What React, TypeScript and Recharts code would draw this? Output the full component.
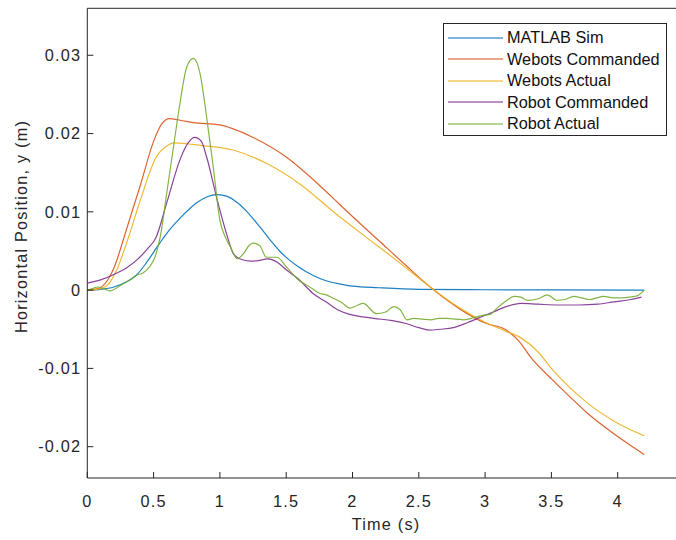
import React from 'react';
import { LineChart, Line, XAxis, YAxis, Legend, Label } from 'recharts';

const AXIS_COLOR = '#262626';
const FONT = '"Liberation Sans", Arial, Helvetica, sans-serif';

const xTicks = [0, 0.5, 1, 1.5, 2, 2.5, 3, 3.5, 4];
const yTicks = [-0.02, -0.01, 0, 0.01, 0.02, 0.03];

// MATLAB Sim
const simT = [0, 0.1, 0.2, 0.3, 0.37, 0.45, 0.55, 0.62, 0.7, 0.82, 0.9, 0.98, 1.05, 1.13, 1.2, 1.3, 1.38, 1.45, 1.52, 1.6, 1.7, 1.8, 1.9, 2.0, 2.2, 2.5, 3.0, 3.5, 4.2];
const simY = [0, 0.0001, 0.0004, 0.0011, 0.0019, 0.0036, 0.0061, 0.0077, 0.0092, 0.0111, 0.0119, 0.0122, 0.012, 0.0112, 0.0101, 0.0081, 0.0064, 0.005, 0.0039, 0.0029, 0.0019, 0.0012, 0.0008, 0.0005, 0.0003, 0.0001, 0.00005, 0.00002, 0];

// Webots Commanded
const wcT = [0, 0.08, 0.15, 0.2, 0.3, 0.4, 0.5, 0.56, 0.62, 0.7, 0.8, 1.0, 1.1, 1.25, 1.5, 1.75, 1.9, 2.0, 2.2, 2.4, 2.6, 2.8, 3.0, 3.16, 3.26, 3.34, 3.51, 3.65, 3.77, 4.0, 4.2];
const wcY = [0, 0.0002, 0.0012, 0.0028, 0.008, 0.0134, 0.019, 0.0212, 0.0219, 0.0217, 0.0214, 0.0211, 0.0206, 0.0195, 0.017, 0.0134, 0.011, 0.0094, 0.0063, 0.0032, 0.0002, -0.0023, -0.0042, -0.0051, -0.0066, -0.0085, -0.0115, -0.0138, -0.0157, -0.0187, -0.021];

// Webots Actual
const waT = [0, 0.1, 0.17, 0.22, 0.3, 0.4, 0.52, 0.6, 0.65, 0.75, 0.85, 1.1, 1.35, 1.6, 1.9, 2.0, 2.2, 2.4, 2.6, 2.8, 3.0, 3.15, 3.27, 3.4, 3.51, 3.77, 4.0, 4.2];
const waY = [0, 0.0002, 0.001, 0.0025, 0.0062, 0.0115, 0.017, 0.0184, 0.0188, 0.0187, 0.0185, 0.0179, 0.0162, 0.0136, 0.0094, 0.0081, 0.0055, 0.0029, 0.0002, -0.0022, -0.0041, -0.0052, -0.0061, -0.0079, -0.0102, -0.0144, -0.017, -0.0186];

// Robot Commanded
const rcT = [0, 0.1, 0.2, 0.3, 0.37, 0.45, 0.52, 0.6, 0.7, 0.76, 0.81, 0.86, 0.9, 0.98, 1.05, 1.1, 1.15, 1.23, 1.3, 1.36, 1.43, 1.5, 1.6, 1.7, 1.8, 1.9, 1.96, 2.16, 2.3, 2.41, 2.5, 2.58, 2.66, 2.76, 2.86, 2.96, 3.06, 3.16, 3.27, 3.4, 3.55, 3.71, 3.85, 3.97, 4.1, 4.18];
const rcY = [0.0009, 0.0013, 0.002, 0.0029, 0.0038, 0.0052, 0.0068, 0.0112, 0.0167, 0.0188, 0.0195, 0.019, 0.017, 0.0115, 0.0072, 0.0047, 0.004, 0.0037, 0.0038, 0.004, 0.0036, 0.0026, 0.0013, -0.0004, -0.0015, -0.0026, -0.003, -0.0036, -0.0039, -0.0043, -0.0048, -0.0051, -0.005, -0.0048, -0.0042, -0.0035, -0.0028, -0.0021, -0.0017, -0.0018, -0.0019, -0.0019, -0.0018, -0.0015, -0.0012, -0.0009];

// Robot Actual
const raT = [0, 0.04, 0.08, 0.12, 0.17, 0.25, 0.32, 0.37, 0.42, 0.47, 0.51, 0.55, 0.6, 0.65, 0.7, 0.75, 0.8, 0.85, 0.9, 0.95, 1.0, 1.04, 1.08, 1.13, 1.18, 1.22, 1.25, 1.3, 1.35, 1.4, 1.43, 1.5, 1.6, 1.67, 1.75, 1.8, 1.85, 1.92, 1.98, 2.03, 2.08, 2.18, 2.25, 2.31, 2.36, 2.41, 2.46, 2.53, 2.59, 2.65, 2.71, 2.78, 2.84, 2.92, 2.99, 3.04, 3.09, 3.15, 3.22, 3.27, 3.32, 3.4, 3.47, 3.54, 3.6, 3.67, 3.73, 3.79, 3.84, 3.89, 3.97, 4.03, 4.09, 4.15, 4.2];
const raY = [0, 0.0002, 0.0004, 0.0002, -0.0001, 0.0006, 0.0013, 0.0019, 0.0022, 0.003, 0.0042, 0.0068, 0.0125, 0.0183, 0.024, 0.0285, 0.0296, 0.0277, 0.0221, 0.0157, 0.0089, 0.0068, 0.0055, 0.004, 0.0047, 0.0057, 0.006, 0.0057, 0.0042, 0.0042, 0.0042, 0.003, 0.0012, 0.0005, -0.0004, -0.0006, -0.001, -0.0016, -0.0023, -0.002, -0.0017, -0.003, -0.0028, -0.0021, -0.0025, -0.0038, -0.0036, -0.0037, -0.0038, -0.0036, -0.0036, -0.0037, -0.0038, -0.0035, -0.0032, -0.0031, -0.0023, -0.0015, -0.0008, -0.0009, -0.0013, -0.0011, -0.0006, -0.0013, -0.0012, -0.0008, -0.001, -0.0012, -0.001, -0.0008, -0.001, -0.001, -0.0009, -0.0007, 0];

const toPoints = (ts: number[], ys: number[]) => ts.map((t, i) => ({ t, y: ys[i] }));

const series = [
  { name: 'MATLAB Sim', color: '#0072BD', data: toPoints(simT, simY) },
  { name: 'Webots Commanded', color: '#D95319', data: toPoints(wcT, wcY) },
  { name: 'Webots Actual', color: '#EDB120', data: toPoints(waT, waY) },
  { name: 'Robot Commanded', color: '#7E2F8E', data: toPoints(rcT, rcY) },
  { name: 'Robot Actual', color: '#77AC30', data: toPoints(raT, raY) },
];

const tickStyle = { fill: AXIS_COLOR, fontSize: 16.3, fontFamily: FONT, letterSpacing: 1.2 };

// legend keeps the plot order (recharts would sort it by name)
function LegendBox() {
  return (
    <div
      style={{
        border: `1px solid ${AXIS_COLOR}`,
        background: '#fff',
        width: 222,
        height: 108,
        boxSizing: 'content-box',
        padding: '3px 0 0 0',
        fontFamily: FONT,
        fontSize: 16.3,
        color: '#111',
      }}
    >
      {series.map((s) => (
        <div key={s.name} style={{ display: 'flex', alignItems: 'center', height: 21.5 }}>
          <svg width={63} height={6} style={{ flex: 'none' }}>
            <line x1={4} x2={59} y1={3} y2={3} stroke={s.color} strokeWidth={1.6} strokeOpacity={0.7} />
          </svg>
          <span style={{ whiteSpace: 'nowrap' }}>{s.name}</span>
        </div>
      ))}
    </div>
  );
}

export default function App() {
  return (
    <div style={{ position: 'absolute', left: 0, top: 0, width: 676, height: 540, overflow: 'hidden', background: '#fff' }}>
      <LineChart width={690} height={540} margin={{ top: 0, right: 6, bottom: 0, left: 0 }}>
        <XAxis
          xAxisId="main"
          type="number"
          dataKey="t"
          domain={[0, 4.5]}
          ticks={xTicks}
          allowDataOverflow
          height={62}
          stroke={AXIS_COLOR}
          tickSize={-6}
          tickMargin={23}
          tick={tickStyle}
          tickFormatter={(v: number) => String(v)}
        >
          <Label
            content={() => (
              <text x={386} y={530} textAnchor="middle" fill={AXIS_COLOR} fontSize={16.3} fontFamily={FONT} letterSpacing={1.2}>
                Time (s)
              </text>
            )}
          />
        </XAxis>
        <XAxis
          xAxisId="top"
          orientation="top"
          type="number"
          dataKey="t"
          domain={[0, 4.5]}
          ticks={xTicks}
          allowDataOverflow
          height={8.3}
          stroke={AXIS_COLOR}
          tickSize={-6}
          tick={false}
        />
        <YAxis
          type="number"
          dataKey="y"
          domain={[-0.024, 0.036]}
          ticks={yTicks}
          allowDataOverflow
          width={87.3}
          stroke={AXIS_COLOR}
          tickSize={-6}
          tickMargin={12}
          tick={tickStyle}
          tickFormatter={(v: number) => (v === 0 ? '0' : String(v))}
        >
          <Label
            content={() => (
              <text
                x={26.7}
                y={226.5}
                transform="rotate(-90 26.7 226.5)"
                textAnchor="middle"
                fill={AXIS_COLOR}
                fontSize={16.3}
                fontFamily={FONT}
                letterSpacing={1.2}
              >
                Horizontal Position, y (m)
              </text>
            )}
          />
        </YAxis>
        <Legend
          layout="vertical"
          align="center"
          verticalAlign="middle"
          wrapperStyle={{ left: 443, top: 23, width: 224, height: 113 }}
          content={<LegendBox />}
        />
        {series.map((s) => (
          <Line
            key={s.name}
            xAxisId="main"
            data={s.data}
            dataKey="y"
            name={s.name}
            type="monotone"
            stroke={s.color}
            strokeWidth={1.2}
            strokeOpacity={0.9}
            dot={false}
            isAnimationActive={false}
          />
        ))}
      </LineChart>
    </div>
  );
}
